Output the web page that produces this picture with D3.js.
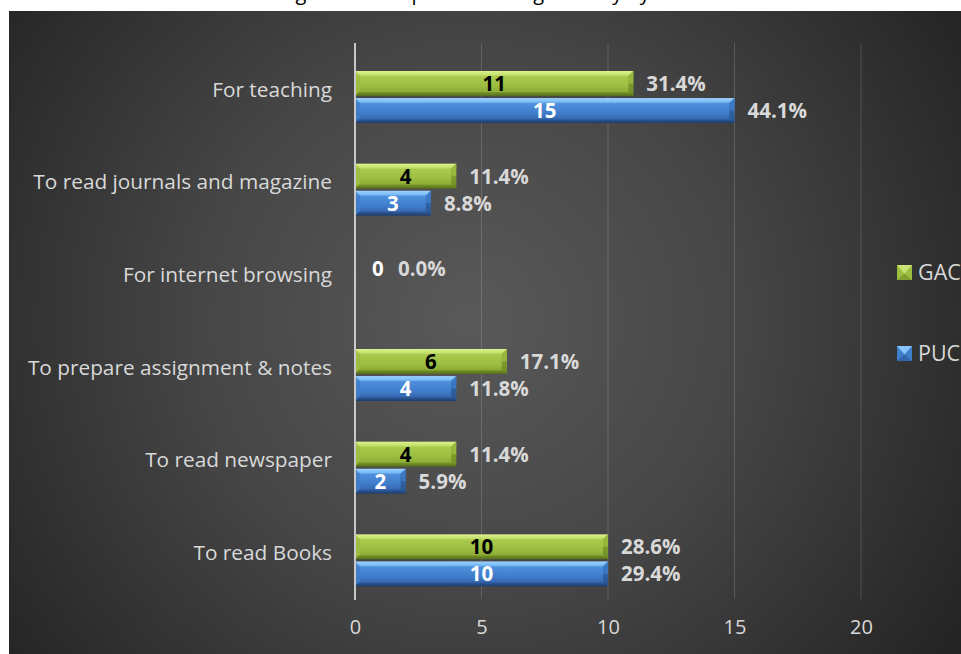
<!DOCTYPE html>
<html>
<head>
<meta charset="utf-8">
<script src="https://cdn.jsdelivr.net/npm/d3@7"></script>
<style>
  html, body { margin: 0; padding: 0; background: #ffffff; }
  svg { display: block; }
  text { font-family: "Open Sans", Lato, "Noto Sans", sans-serif; }
</style>
</head>
<body>
<svg id="chart" width="961" height="654"></svg>
<script>
// Purposes, top to bottom
const categories = [
  "For teaching",
  "To read journals and magazine",
  "For internet browsing",
  "To prepare assignment & notes",
  "To read newspaper",
  "To read Books"
];
const seriesNames = ["GAC", "PUC"];
// Respondent counts per purpose
const gacValues = [11, 4, 0, 6, 4, 10];
const pucValues = [15, 3, null, 4, 2, 10];
// Share of each college's respondents
const gacPercents = ["31.4%", "11.4%", "0.0%", "17.1%", "11.4%", "28.6%"];
const pucPercents = ["44.1%", "8.8%", null, "11.8%", "5.9%", "29.4%"];
const xTicks = [0, 5, 10, 15, 20];
const titleText = "Using of the computer in college faculty by";

const W = 961, H = 654;
const FONT = "'Open Sans', Lato, sans-serif";
const svg = d3.select("#chart");
const defs = svg.append("defs");

// Panel background: dark radial gradient
const bg = defs.append("radialGradient").attr("id", "bgGrad")
  .attr("gradientUnits", "userSpaceOnUse")
  .attr("cx", 470).attr("cy", 320).attr("r", 600);
bg.append("stop").attr("offset", "0%").attr("stop-color", "#595959");
bg.append("stop").attr("offset", "45%").attr("stop-color", "#464646");
bg.append("stop").attr("offset", "100%").attr("stop-color", "#222222");

// Bevelled bar fills
function barGradient(id, stops) {
  const g = defs.append("linearGradient").attr("id", id)
    .attr("x1", 0).attr("y1", 0).attr("x2", 0).attr("y2", 1);
  stops.forEach(([o, c]) => g.append("stop").attr("offset", o).attr("stop-color", c));
}
barGradient("gacGrad", [
  ["0%", "#dcf28e"], ["16%", "#c4e06c"], ["22%", "#a9ca4c"],
  ["60%", "#9cbd40"], ["82%", "#8dad36"], ["88%", "#6f8d26"], ["100%", "#566f1a"]
]);
barGradient("pucGrad", [
  ["0%", "#9ed3ff"], ["16%", "#78bbf6"], ["22%", "#4f8fdc"],
  ["60%", "#3f7dcb"], ["82%", "#3669b2"], ["88%", "#2a5390"], ["100%", "#1d3d6e"]
]);
const fills = { GAC: "url(#gacGrad)", PUC: "url(#pucGrad)" };
const flat = { GAC: ["#c9e474", "#6e8c24", "#9dbe40"], PUC: ["#86c4fb", "#2a5592", "#3f7dcb"] };
const valueColor = { GAC: "#000000", PUC: "#ffffff" };

// White page margin with the chart panel
svg.append("rect").attr("width", W).attr("height", H).attr("fill", "#ffffff");
svg.append("text")
  .attr("x", 452).attr("y", 0)
  .attr("text-anchor", "middle")
  .attr("font-size", 20)
  .attr("fill", "#000")
  .text(titleText);
svg.append("rect").attr("x", 9).attr("y", 11).attr("width", W - 9).attr("height", H - 11)
  .attr("fill", "url(#bgGrad)");

// Scales
const x = d3.scaleLinear().domain([0, 20]).range([355, 861]);
const y = d3.scaleBand().domain(categories).range([43, 599]).padding(0);
const inner = d3.scaleBand().domain(seriesNames).range([28, 80]).paddingInner(0.08);

// Vertical gridlines
svg.append("g").selectAll("line").data(xTicks.filter(t => t !== 0)).join("line")
  .attr("x1", d => x(d)).attr("x2", d => x(d))
  .attr("y1", 43).attr("y2", 599)
  .attr("stroke", "#ffffff").attr("stroke-opacity", 0.16).attr("stroke-width", 1);

// X axis tick labels
const xAxis = d3.axisBottom(x).tickValues(xTicks).tickSize(0).tickPadding(0);
const ax = svg.append("g").attr("transform", "translate(0,620)").call(xAxis);
ax.select(".domain").remove();
ax.selectAll("text")
  .attr("fill", "#d9d9d9").attr("font-size", 20).attr("dy", "0.71em")
  .style("font-family", FONT);

// Category labels
const ay = svg.append("g").attr("transform", "translate(332,0)")
  .call(d3.axisLeft(y).tickSize(0).tickPadding(0));
ay.select(".domain").remove();
ay.selectAll("text")
  .attr("fill", "#d9d9d9").attr("font-size", 20.8).attr("dy", "0.35em")
  .style("font-family", FONT);

// Bar records
const rows = [];
categories.forEach((c, i) => {
  rows.push({ cat: c, s: "GAC", v: gacValues[i], pct: gacPercents[i] });
  rows.push({ cat: c, s: "PUC", v: pucValues[i], pct: pucPercents[i] });
});
const bars = rows.filter(r => r.v !== null);

const by = d => y(d.cat) + inner(d.s);
const bh = inner.bandwidth();

const g = svg.append("g");
const barG = g.selectAll("g.bar").data(bars.filter(d => d.v > 0)).join("g").attr("class", "bar");
barG.append("rect")
  .attr("x", x(0)).attr("y", by)
  .attr("width", d => x(d.v) - x(0)).attr("height", bh)
  .attr("fill", d => fills[d.s]);
// bevel facets at both ends
const b = 5;
barG.append("polygon")
  .attr("points", d => {
    const x1 = x(d.v), y0 = by(d);
    return [[x1 - b, y0 + b], [x1, y0], [x1, y0 + bh], [x1 - b, y0 + bh - b]].join(" ");
  })
  .attr("fill", d => flat[d.s][1]).attr("fill-opacity", 0.75);
barG.append("polygon")
  .attr("points", d => {
    const x1 = x(d.v), y0 = by(d);
    return [[x1 - b, y0 + b], [x1, y0], [x1, y0 + bh / 2], [x1 - b, y0 + bh / 2]].join(" ");
  })
  .attr("fill", d => flat[d.s][2]).attr("fill-opacity", 0.8);
barG.append("polygon")
  .attr("points", d => {
    const x0 = x(0), y0 = by(d);
    return [[x0, y0], [x0 + b, y0 + b], [x0 + b, y0 + bh - b], [x0, y0 + bh]].join(" ");
  })
  .attr("fill", d => flat[d.s][2]).attr("fill-opacity", 0.8);

// Zero axis line
svg.append("line")
  .attr("x1", x(0)).attr("x2", x(0)).attr("y1", 43).attr("y2", 600)
  .attr("stroke", "#c8c8c8").attr("stroke-width", 2);

// Value labels centred in the bars (outside when the bar is empty)
g.selectAll("text.val").data(bars).join("text").attr("class", "val")
  .attr("x", d => d.v > 0 ? (x(0) + x(d.v)) / 2 : x(d.v) + 17)
  .attr("y", d => by(d) + bh / 2)
  .attr("dy", "0.36em")
  .attr("text-anchor", d => d.v > 0 ? "middle" : "start")
  .attr("font-size", 20.5).attr("font-weight", "bold")
  .attr("fill", d => d.v > 0 ? valueColor[d.s] : "#ffffff")
  .text(d => d.v);

// Percentage labels beyond the bar ends
g.selectAll("text.pct").data(bars).join("text").attr("class", "pct")
  .attr("x", d => d.v > 0 ? x(d.v) + 13 : x(d.v) + 43)
  .attr("y", d => by(d) + bh / 2)
  .attr("dy", "0.36em")
  .attr("font-size", 20.5).attr("font-weight", "bold")
  .attr("fill", "#d9d9d9")
  .text(d => d.pct);

// Legend
const legend = svg.append("g");
const legY = { GAC: 272, PUC: 353 };
seriesNames.forEach(s => {
  const lx = 897, ly = legY[s] - 7, sz = 15;
  legend.append("rect").attr("x", lx).attr("y", ly).attr("width", sz).attr("height", sz)
    .attr("fill", flat[s][2]);
  legend.append("polygon")
    .attr("points", [[lx, ly], [lx + sz, ly], [lx + sz / 2, ly + sz / 2 + 1]].join(" "))
    .attr("fill", flat[s][0]);
  legend.append("polygon")
    .attr("points", [[lx, ly + sz], [lx + sz, ly + sz], [lx + sz / 2, ly + sz / 2 + 1]].join(" "))
    .attr("fill", flat[s][1]).attr("fill-opacity", 0.6);
  legend.append("text").attr("x", 918).attr("y", legY[s]).attr("dy", "0.35em")
    .attr("font-size", 21.5).attr("fill", "#d9d9d9").text(s);
});
</script>
</body>
</html>
